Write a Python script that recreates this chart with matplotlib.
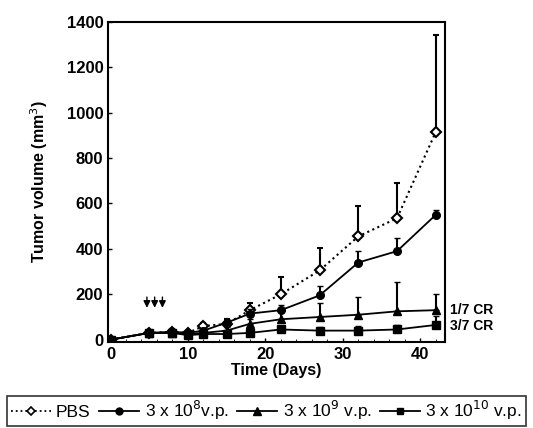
import numpy as np
import matplotlib.pyplot as plt
from matplotlib.lines import Line2D
from matplotlib.ticker import MultipleLocator

plt.rcParams['font.family'] = ['Liberation Sans', 'DejaVu Sans']

days = [0, 5, 8, 10, 12, 15, 18, 22, 27, 32, 37, 42]

pbs = [0, 30, 35, 30, 60, 70, 130, 200, 305, 455, 535, 915]
pbs_err = [0, 10, 10, 10, 15, 20, 30, 75, 100, 135, 155, 425]

vp8 = [0, 30, 35, 30, 40, 75, 115, 130, 195, 340, 390, 550]
vp8_err = [0, 10, 10, 10, 10, 15, 20, 25, 40, 50, 60, 20]

vp9 = [0, 30, 30, 25, 30, 40, 70, 90, 100, 110, 125, 130]
vp9_err = [0, 10, 10, 10, 10, 15, 20, 40, 60, 80, 130, 70]

vp10 = [0, 30, 30, 20, 25, 25, 30, 45, 40, 40, 45, 65]
vp10_err = [0, 10, 10, 10, 10, 10, 10, 15, 15, 20, 20, 40]

labels = ['PBS', r'3 x 10$^8$v.p.', r'3 x 10$^9$ v.p.', r'3 x 10$^{10}$ v.p.']
arrow_days = [4.7, 5.7, 6.7]

fig = plt.figure(figsize=(5.33, 4.28), dpi=100)
ax = fig.add_axes([0.203, 0.201, 0.632, 0.748])

def zeros(v):
    return np.zeros(len(v))

ax.errorbar(days, pbs, yerr=[zeros(pbs), pbs_err], color='black', ls=':', lw=1.5,
            marker='D', ms=5, mfc='white', mec='black', mew=1.5, capsize=2.5, elinewidth=1.5,
            zorder=3)
ax.errorbar(days, vp8, yerr=[zeros(vp8), vp8_err], color='black', ls='-', lw=1.3,
            marker='o', ms=5.5, capsize=2.5, elinewidth=1.5, zorder=4)
ax.errorbar(days, vp9, yerr=[zeros(vp9), vp9_err], color='black', ls='-', lw=1.3,
            marker='^', ms=6, capsize=2.5, elinewidth=1.5, zorder=4)
ax.errorbar(days, vp10, yerr=[zeros(vp10), vp10_err], color='black', ls='-', lw=1.3,
            marker='s', ms=5.5, capsize=2.5, elinewidth=1.5, zorder=4)

for d in arrow_days:
    ax.annotate('', xy=(d, 128), xytext=(d, 200),
                arrowprops=dict(arrowstyle='-|>', color='black', lw=1.0, mutation_scale=10))

ax.text(43.9, 130, '1/7 CR', fontsize=10, fontweight='bold', va='center', clip_on=False)
ax.text(43.9, 60, '3/7 CR', fontsize=10, fontweight='bold', va='center', clip_on=False)

ax.set_xlim(-0.3, 43.2)
ax.set_ylim(-10, 1400)
ax.set_xticks([0, 10, 20, 30, 40])
ax.xaxis.set_minor_locator(MultipleLocator(2))
ax.set_yticks(range(0, 1401, 200))
ax.tick_params(direction='in', length=3, labelsize=12, width=1)
ax.tick_params(which='minor', direction='in', length=2)
for lab in ax.get_xticklabels() + ax.get_yticklabels():
    lab.set_fontweight('bold')
for s in ax.spines.values():
    s.set_linewidth(1.5)

ax.set_xlabel('Time (Days)', fontsize=11.5, fontweight='bold', labelpad=1)
ax.set_ylabel('Tumor volume (mm$^3$)', fontsize=11.5, fontweight='bold', labelpad=12)

handles = [
    Line2D([], [], color='black', ls=':', lw=1.3, marker='D', ms=4.5, mfc='white', mew=1.2),
    Line2D([], [], color='black', ls='-', lw=1.3, marker='o', ms=5),
    Line2D([], [], color='black', ls='-', lw=1.3, marker='^', ms=5.5),
    Line2D([], [], color='black', ls='-', lw=1.3, marker='s', ms=5),
]
leg = fig.legend(handles, labels, loc='lower center', bbox_to_anchor=(0.5, 0.005),
                 ncol=4, fontsize=12.5, frameon=True, fancybox=False, edgecolor='black',
                 columnspacing=0.5, handlelength=2.3, handletextpad=0.3, borderpad=0.2,
                 borderaxespad=0)
leg.get_frame().set_linewidth(1.2)

fig.savefig('out.png', dpi=100)
